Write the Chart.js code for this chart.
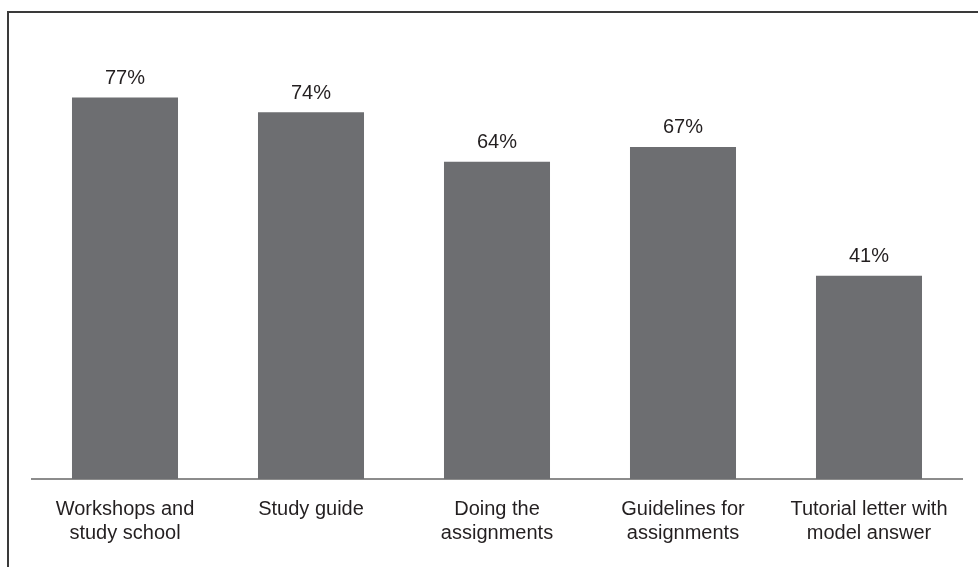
<!DOCTYPE html>
<html>
<head>
<meta charset="utf-8">
<script src="https://cdn.jsdelivr.net/npm/chart.js@4/dist/chart.umd.min.js"></script>
<style>
	html, body { margin: 0; padding: 0; background: #fff; }
	#wrap { width: 978px; height: 567px; position: relative; }
</style>
</head>
<body>
<div id="wrap"><canvas id="grafico"></canvas></div>
<script>
// data
const categorias = [
	['Workshops and', 'study school'],
	['Study guide'],
	['Doing the', 'assignments'],
	['Guidelines for', 'assignments'],
	['Tutorial letter with', 'model answer']
];
const valores = [77, 74, 64, 67, 41];

const corBarra = '#6d6e71';
const corTexto = '#231f20';
const fonte = "'Liberation Sans', Arial, sans-serif";

// frame around the figure (left + top edges)
const moldura = {
	id: 'moldura',
	beforeDraw(chart) {
		const ctx = chart.ctx;
		ctx.save();
		ctx.strokeStyle = '#3a3a3a';
		ctx.lineWidth = 2;
		ctx.beginPath();
		ctx.moveTo(8, chart.height + 2);
		ctx.lineTo(8, 12);
		ctx.lineTo(chart.width + 2, 12);
		ctx.stroke();
		ctx.restore();
	}
};

// percent labels above bars
const rotulos = {
	id: 'rotulos',
	afterDatasetsDraw(chart) {
		const ctx = chart.ctx;
		const meta = chart.getDatasetMeta(0);
		ctx.save();
		ctx.fillStyle = corTexto;
		ctx.font = '20px ' + fonte;
		ctx.textAlign = 'center';
		ctx.textBaseline = 'middle';
		meta.data.forEach((barra, i) => {
			ctx.fillText(valores[i] + '%', barra.x, barra.y - 19);
		});
		ctx.restore();
	}
};

const ctx = document.getElementById('grafico').getContext('2d');
let myChart = new Chart(ctx, {
	type: 'bar',
	data: {
		labels: categorias,
		datasets: [{
			data: valores,
			backgroundColor: corBarra,
			borderWidth: 0,
			categoryPercentage: 1,
			barPercentage: 0.57
		}]
	},
	options: {
		responsive: true,
		maintainAspectRatio: false,
		animation: false,
		devicePixelRatio: 1,
		layout: {
			padding: { left: 32, right: 16, top: 33, bottom: 4 }
		},
		plugins: {
			legend: { display: false },
			tooltip: { enabled: false }
		},
		scales: {
			x: {
				grid: { display: false, drawTicks: false },
				border: { display: true, color: '#8c8c8c', width: 2 },
				ticks: {
					color: corTexto,
					font: { family: fonte, size: 20, lineHeight: 1.2 },
					padding: 18,
					maxRotation: 0,
					autoSkip: false
				}
			},
			y: {
				display: false,
				min: 0,
				max: 90
			}
		}
	},
	plugins: [moldura, rotulos]
});
</script>
</body>
</html>
